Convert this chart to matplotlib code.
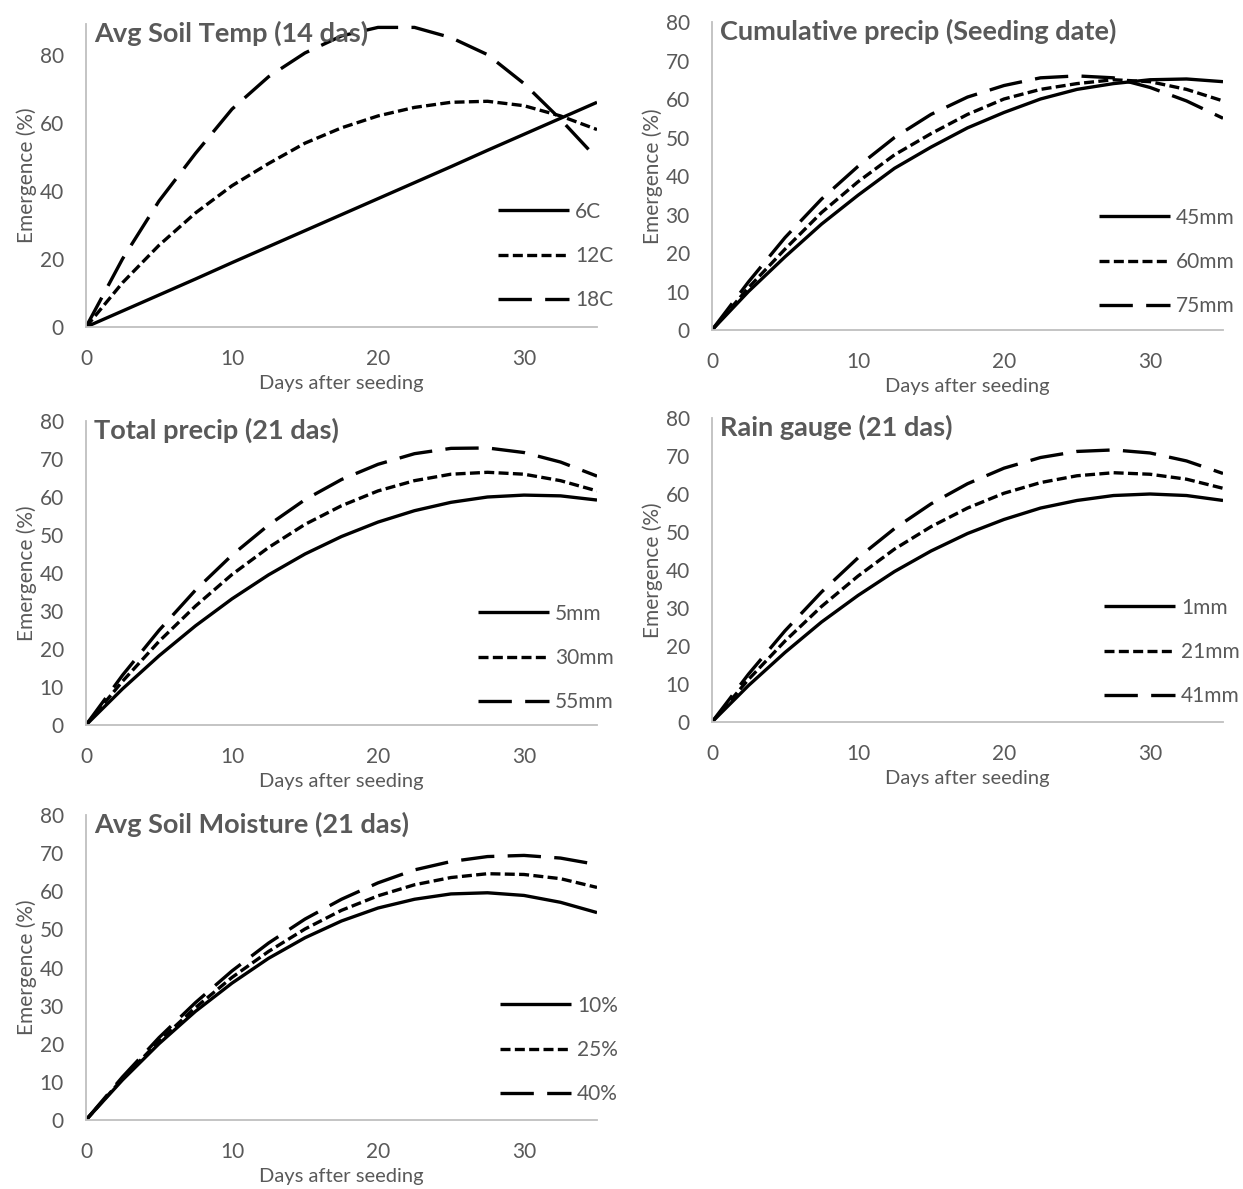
import matplotlib
matplotlib.use("Agg")
import matplotlib.pyplot as plt

plt.rcParams['font.family'] = ['Lato', 'DejaVu Sans']

# days after seeding (shared by all panels)
days = [0, 2.5, 5, 7.5, 10, 12.5, 15, 17.5, 20, 22.5, 25, 27.5, 30, 32.5, 35]

# Avg Soil Temp (14 das)
temp_labels = ["6C", "12C", "18C"]
temp_6c = [0, 4.7, 9.4, 14.1, 18.9, 23.6, 28.3, 33.0, 37.7, 42.4, 47.1, 51.9, 56.6, 61.3, 66.0]
temp_12c = [0, 13, 24, 33.5, 41.5, 48, 54, 58.5, 62, 64.5, 66, 66.3, 65, 62, 58]
temp_18c = [0, 20, 37, 51, 64, 73.5, 80.5, 85.5, 88, 88, 85, 80, 71.5, 61, 49.5]

# Cumulative precip (Seeding date)
cum_labels = ["45mm", "60mm", "75mm"]
cum_45 = [0, 10, 19, 27.5, 35, 42, 47.5, 52.5, 56.5, 60, 62.5, 64, 65, 65.2, 64.5]
cum_60 = [0, 11, 21, 30.5, 38.5, 45.5, 51, 56, 60, 62.5, 64, 65, 64.5, 62.5, 59.5]
cum_75 = [0, 12.5, 24, 34, 42.5, 50, 56, 60.5, 63.5, 65.5, 66, 65.5, 63, 59.5, 55]

# Total precip (21 das)
tot_labels = ["5mm", "30mm", "55mm"]
tot_5 = [0, 9.5, 18.2, 26.1, 33.2, 39.5, 45, 49.6, 53.4, 56.4, 58.6, 60, 60.5, 60.3, 59.2]
tot_30 = [0, 11.5, 22, 31.3, 39.6, 46.7, 52.8, 57.7, 61.6, 64.3, 66, 66.5, 66, 64.3, 61.6]
tot_55 = [0, 13.1, 24.9, 35.5, 44.7, 52.6, 59.3, 64.6, 68.6, 71.4, 72.8, 72.9, 71.7, 69.2, 65.5]

# Rain gauge (21 das)
rain_labels = ["1mm", "21mm", "41mm"]
rain_1 = [0, 9.6, 18.3, 26.3, 33.3, 39.6, 45, 49.6, 53.3, 56.3, 58.3, 59.6, 60, 59.6, 58.3]
rain_21 = [0, 11.2, 21.3, 30.4, 38.4, 45.5, 51.4, 56.3, 60.2, 63, 64.8, 65.6, 65.2, 63.9, 61.5]
rain_41 = [0, 12.6, 24, 34.2, 43.2, 50.9, 57.4, 62.7, 66.8, 69.6, 71.2, 71.6, 70.8, 68.7, 65.4]

# Avg Soil Moisture (21 das)
moist_labels = ["10%", "25%", "40%"]
moist_10 = [0, 10.5, 20, 28.5, 35.9, 42.4, 47.8, 52.2, 55.6, 57.9, 59.3, 59.6, 58.9, 57.1, 54.4]
moist_25 = [0, 10.8, 20.7, 29.5, 37.4, 44.2, 50.1, 55, 58.8, 61.7, 63.6, 64.6, 64.4, 63.3, 61]
moist_40 = [0, 11.3, 21.6, 30.8, 39.1, 46.4, 52.7, 57.9, 62.2, 65.6, 67.8, 69.1, 69.4, 68.7, 67]

W, H = 1243, 1189
GREY = "#595959"
AXIS = "#BFBFBF"
styles = [dict(linestyle="-"),
          dict(linestyle=(0, (3.0, 1.3))),
          dict(linestyle=(0, (10, 4.0)))]

fig = plt.figure(figsize=(W / 100, H / 100), dpi=100)


def panel(left, top, bottom, ymax, yticks, title, series, labels, leg_x, leg_y):
    hgt = bottom - top
    ax = fig.add_axes([left / W, 1 - bottom / H, 511 / W, hgt / H])
    for ys, lab, st in zip(series, labels, styles):
        ax.plot(days, ys, color="black", lw=2.4, label=lab,
                dash_capstyle="butt", solid_capstyle="butt", **st)
    ax.set_xlim(0, 35)
    ax.set_ylim(0, ymax)
    ax.set_xticks([0, 10, 20, 30])
    ax.set_yticks(yticks)
    for s in ["top", "right"]:
        ax.spines[s].set_visible(False)
    for s in ["left", "bottom"]:
        ax.spines[s].set_color(AXIS)
        ax.spines[s].set_linewidth(1.3)
    ax.tick_params(length=0, labelsize=15, labelcolor=GREY)
    ax.tick_params(axis="y", pad=16)
    ax.tick_params(axis="x", pad=16)
    ax.set_xlabel("Days after seeding", fontsize=14.5, color=GREY, labelpad=4)
    ax.set_ylabel("Emergence (%)", fontsize=15, color=GREY, labelpad=2)
    ax.text(8 / 511, 1 - 9 / hgt, title,
            transform=ax.transAxes, fontsize=19.5, fontweight="bold",
            color=GREY, va="center", ha="left")
    leg = ax.legend(loc="center left", frameon=False, fontsize=15,
                    handlelength=3.4, handletextpad=0.3, labelspacing=1.17,
                    borderaxespad=0, borderpad=0,
                    bbox_to_anchor=(leg_x / 511, 1 - (leg_y - top) / hgt))
    for t in leg.get_texts():
        t.set_color(GREY)
    return ax


panel(86, 24, 327, 89, [0, 20, 40, 60, 80], "Avg Soil Temp (14 das)",
      [temp_6c, temp_12c, temp_18c], temp_labels, 412, 256)
panel(712, 22, 330, 80, range(0, 81, 10), "Cumulative precip (Seeding date)",
      [cum_45, cum_60, cum_75], cum_labels, 387, 262)
panel(86, 421, 725, 80, range(0, 81, 10), "Total precip (21 das)",
      [tot_5, tot_30, tot_55], tot_labels, 392, 658)
panel(712, 418, 722, 80, range(0, 81, 10), "Rain gauge (21 das)",
      [rain_1, rain_21, rain_41], rain_labels, 392, 652)
panel(86, 815, 1120, 80, range(0, 81, 10), "Avg Soil Moisture (21 das)",
      [moist_10, moist_25, moist_40], moist_labels, 414, 1050)

fig.savefig("out.png", dpi=100)
